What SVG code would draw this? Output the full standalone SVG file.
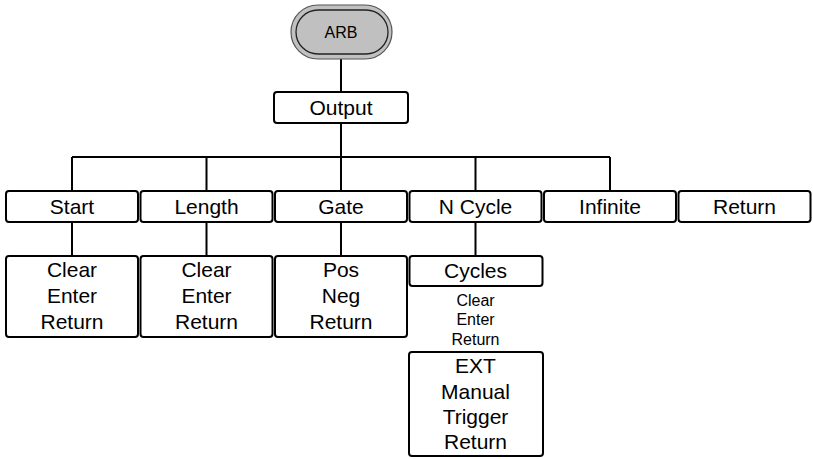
<svg xmlns="http://www.w3.org/2000/svg" width="813" height="459" viewBox="0 0 813 459">
<style>
.box{fill:#fff;stroke:#000;stroke-width:2}
.ln{fill:none;stroke:#000;stroke-width:2}
text{font-family:"Liberation Sans",Arial,sans-serif;fill:#000;text-anchor:middle}
.t{font-size:21px}
.s{font-size:16px}
</style>
<rect width="813" height="459" fill="#fff"/>
<g id="connectors">
<path class="ln" d="M341 59V92M341 123V191M72 157H610M72 157V191M206.5 157V191M475.5 157V191M610 157V191M72 222V256M206.5 222V256M341 222V256M475.5 222V256"/>
</g>
<g id="arb">
<rect x="291" y="5" width="101" height="54" rx="27" fill="#c0c0c0" stroke="#555" stroke-width="1.2"/>
<rect x="296" y="10" width="92" height="44" rx="22" fill="#c0c0c0" stroke="#222" stroke-width="1.3"/>
<text class="s" x="341" y="38">ARB</text>
</g>
<g id="output"><rect class="box" x="274" y="92" width="134" height="31" rx="3"/><text class="t" x="341" y="115">Output</text></g>
<g id="start"><rect class="box" x="6" y="191" width="132" height="31" rx="3"/><text class="t" x="72" y="214">Start</text></g>
<g id="length"><rect class="box" x="140.5" y="191" width="132" height="31" rx="3"/><text class="t" x="206.5" y="214">Length</text></g>
<g id="gate"><rect class="box" x="275" y="191" width="132" height="31" rx="3"/><text class="t" x="341" y="214">Gate</text></g>
<g id="ncycle"><rect class="box" x="409.5" y="191" width="132" height="31" rx="3"/><text class="t" x="475.5" y="214">N Cycle</text></g>
<g id="infinite"><rect class="box" x="544" y="191" width="132" height="31" rx="3"/><text class="t" x="610" y="214">Infinite</text></g>
<g id="return"><rect class="box" x="678.5" y="191" width="132" height="31" rx="3"/><text class="t" x="744.5" y="214">Return</text></g>
<g id="start-sub"><rect class="box" x="6" y="256" width="132" height="81" rx="3"/><text class="t" x="72" y="277">Clear</text><text class="t" x="72" y="303">Enter</text><text class="t" x="72" y="329">Return</text></g>
<g id="length-sub"><rect class="box" x="140.5" y="256" width="132" height="81" rx="3"/><text class="t" x="206.5" y="277">Clear</text><text class="t" x="206.5" y="303">Enter</text><text class="t" x="206.5" y="329">Return</text></g>
<g id="gate-sub"><rect class="box" x="275" y="256" width="132" height="81" rx="3"/><text class="t" x="341" y="277">Pos</text><text class="t" x="341" y="303">Neg</text><text class="t" x="341" y="329">Return</text></g>
<g id="cycles"><rect class="box" x="409.5" y="256" width="133" height="30" rx="3"/><text class="t" x="475.5" y="278">Cycles</text>
<text class="s" x="475.5" y="306">Clear</text><text class="s" x="475.5" y="325">Enter</text><text class="s" x="475.5" y="345">Return</text></g>
<g id="trigger"><rect class="box" x="409" y="352" width="134" height="104" rx="3"/><text class="t" x="475.5" y="373">EXT</text><text class="t" x="475.5" y="399">Manual</text><text class="t" x="475.5" y="424">Trigger</text><text class="t" x="475.5" y="449">Return</text></g>
</svg>
